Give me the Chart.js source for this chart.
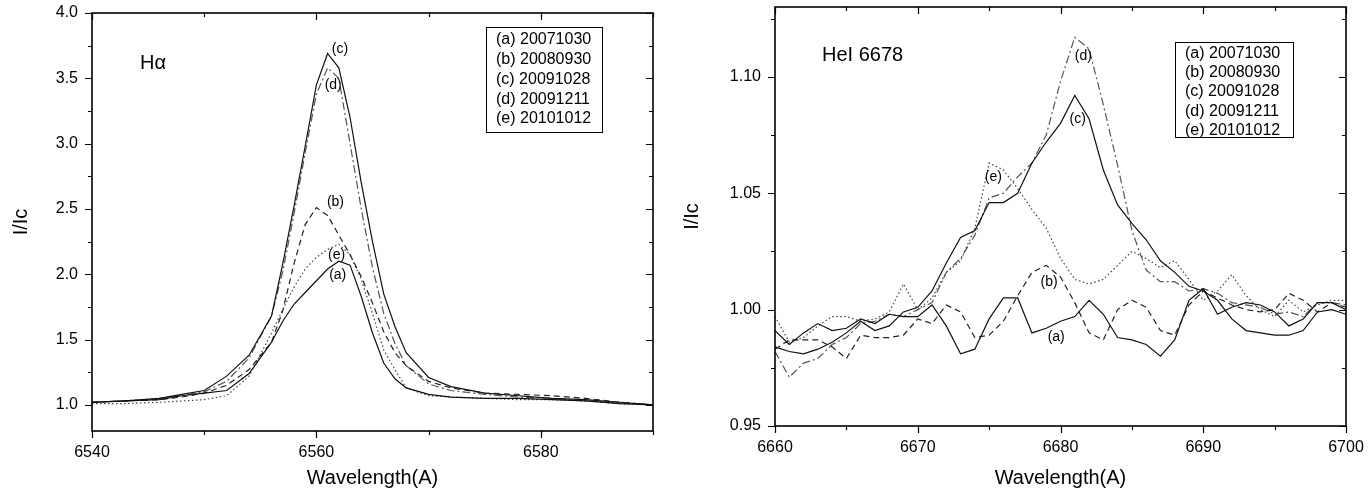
<!DOCTYPE html>
<html>
<head>
<meta charset="utf-8">
<script src="https://cdn.jsdelivr.net/npm/chart.js@4"></script>
<style>
  body { margin: 0; background: #fff; }
  .panel { position: absolute; top: 0; }
</style>
</head>
<body>
<div class="panel" style="left:0"><canvas id="haChart" width="680" height="495"></canvas></div>
<div class="panel" style="left:680px"><canvas id="heChart" width="689" height="495"></canvas></div>
<script>
// ---- data ----
var seriesNames = ['(a) 20071030', '(b) 20080930', '(c) 20091028', '(d) 20091211', '(e) 20101012'];

// H-alpha panel
var haWave = [6540, 6543, 6546, 6548, 6550, 6552, 6554, 6556, 6557, 6558, 6559, 6560, 6561, 6562,
              6563, 6564, 6565, 6566, 6567, 6568, 6570, 6572, 6575, 6578, 6581, 6584, 6587, 6590];
var haA = [1.02, 1.03, 1.04, 1.07, 1.09, 1.11, 1.24, 1.48, 1.64, 1.77, 1.86, 1.95, 2.04, 2.10,
           2.07, 1.83, 1.55, 1.32, 1.20, 1.13, 1.08, 1.06, 1.05, 1.05, 1.04, 1.03, 1.01, 1.00];
var haB = [1.02, 1.03, 1.04, 1.06, 1.09, 1.15, 1.27, 1.48, 1.72, 2.08, 2.38, 2.51, 2.45, 2.30,
           2.15, 1.98, 1.78, 1.56, 1.40, 1.30, 1.18, 1.13, 1.09, 1.08, 1.07, 1.05, 1.02, 1.00];
var haC = [1.02, 1.03, 1.05, 1.08, 1.11, 1.22, 1.38, 1.68, 2.08, 2.52, 2.98, 3.45, 3.69, 3.58,
           3.20, 2.70, 2.25, 1.85, 1.60, 1.40, 1.21, 1.14, 1.09, 1.07, 1.05, 1.04, 1.02, 1.00];
var haD = [1.02, 1.03, 1.05, 1.07, 1.10, 1.18, 1.36, 1.68, 2.02, 2.46, 2.93, 3.38, 3.58, 3.50,
           3.00, 2.50, 2.05, 1.70, 1.47, 1.30, 1.16, 1.11, 1.08, 1.06, 1.05, 1.03, 1.02, 1.00];
var haE = [1.01, 1.01, 1.02, 1.03, 1.04, 1.07, 1.22, 1.55, 1.73, 1.90, 2.04, 2.13, 2.19, 2.23,
           2.15, 1.96, 1.70, 1.42, 1.27, 1.13, 1.07, 1.06, 1.05, 1.04, 1.04, 1.03, 1.01, 1.00];
var haTickX = [6540, 6560, 6580];
var haTickY = [1.0, 1.5, 2.0, 2.5, 3.0, 3.5, 4.0];

// HeI 6678 panel
var heWave = [6660, 6661, 6662, 6663, 6664, 6665, 6666, 6667, 6668, 6669,
              6670, 6671, 6672, 6673, 6674, 6675, 6676, 6677, 6678, 6679,
              6680, 6681, 6682, 6683, 6684, 6685, 6686, 6687, 6688, 6689,
              6690, 6691, 6692, 6693, 6694, 6695, 6696, 6697, 6698, 6699, 6700];
var heA = [0.991, 0.985, 0.990, 0.994, 0.991, 0.992, 0.996, 0.994, 0.998, 0.997,
           0.997, 1.002, 0.993, 0.981, 0.983, 0.996, 1.005, 1.005, 0.990, 0.992,
           0.995, 0.997, 1.004, 0.998, 0.988, 0.987, 0.985, 0.980, 0.987, 1.004,
           1.009, 0.998, 1.001, 1.003, 1.002, 0.999, 0.993, 0.996, 1.003, 1.003, 1.000];
var heB = [0.983, 0.987, 0.987, 0.987, 0.984, 0.979, 0.989, 0.988, 0.988, 0.989,
           0.996, 0.994, 1.002, 0.999, 0.988, 0.989, 0.995, 1.006, 1.016, 1.019,
           1.014, 1.003, 0.990, 0.987, 1.000, 1.004, 1.001, 0.991, 0.989, 1.002,
           1.008, 1.005, 1.002, 1.000, 0.999, 1.000, 1.007, 1.004, 0.999, 1.003, 1.001];
var heC = [0.984, 0.982, 0.981, 0.983, 0.986, 0.990, 0.995, 0.991, 0.993, 0.999,
           1.001, 1.008, 1.020, 1.031, 1.034, 1.046, 1.046, 1.050, 1.063, 1.072,
           1.080, 1.092, 1.082, 1.060, 1.045, 1.037, 1.030, 1.021, 1.016, 1.010,
           1.008, 1.004, 0.996, 0.991, 0.990, 0.989, 0.989, 0.991, 0.999, 1.000, 0.998];
var heD = [0.982, 0.971, 0.977, 0.979, 0.985, 0.988, 0.994, 0.995, 0.998, 0.997,
           1.000, 1.003, 1.016, 1.022, 1.032, 1.048, 1.050, 1.057, 1.063, 1.075,
           1.098, 1.117, 1.112, 1.088, 1.062, 1.034, 1.017, 1.012, 1.012, 1.008,
           1.009, 1.007, 1.003, 1.002, 1.001, 0.998, 0.999, 0.997, 1.003, 1.003, 1.002];
var heE = [0.997, 0.986, 0.988, 0.993, 0.997, 0.997, 0.995, 0.996, 0.999, 1.011,
           1.000, 1.005, 1.016, 1.021, 1.035, 1.063, 1.060, 1.052, 1.043, 1.035,
           1.022, 1.013, 1.011, 1.013, 1.019, 1.025, 1.022, 1.018, 1.021, 1.013,
           1.004, 1.008, 1.015, 1.006, 1.000, 0.997, 1.004, 0.999, 1.002, 1.004, 1.004];
var heTickX = [6660, 6670, 6680, 6690, 6700];
var heTickY = [0.95, 1.00, 1.05, 1.10];

// curve labels, in data units
var haNotes = [
  { text: '(c)', x: 6562.1, y: 3.72 },
  { text: '(d)', x: 6561.5, y: 3.45 },
  { text: '(b)', x: 6561.7, y: 2.55 },
  { text: '(e)', x: 6561.8, y: 2.15 },
  { text: '(a)', x: 6561.9, y: 1.99 }
];
var heNotes = [
  { text: '(d)', x: 6681.6, y: 1.109 },
  { text: '(c)', x: 6681.2, y: 1.082 },
  { text: '(e)', x: 6675.3, y: 1.057 },
  { text: '(b)', x: 6679.2, y: 1.012 },
  { text: '(a)', x: 6679.7, y: 0.988 }
];

// ---- styles ----
Chart.defaults.font.family = '"Liberation Sans", Arial, sans-serif';
Chart.defaults.color = '#000';

var lineStyles = [
  { color: '#111', dash: [] },
  { color: '#222', dash: [6, 4] },
  { color: '#111', dash: [] },
  { color: '#555', dash: [8, 3, 2, 3] },
  { color: '#444', dash: [1.5, 2.5] }
];

function makeDatasets(wave, series) {
  return series.map(function (vals, i) {
    return {
      label: seriesNames[i],
      data: wave.map(function (w, j) { return { x: w, y: vals[j] }; }),
      borderColor: lineStyles[i].color,
      borderDash: lineStyles[i].dash,
      borderWidth: 1.2,
      pointRadius: 0,
      tension: 0,
      fill: false
    };
  });
}

function minorTicks(major, min, max) {
  var step = major[1] - major[0], out = [];
  [major[0] - step / 2].concat(major.map(function (m) { return m + step / 2; })).forEach(function (v) {
    if (v >= min - 1e-9 && v <= max + 1e-9) out.push(v);
  });
  return out;
}

// frame, ticks on all four sides, curve labels and legend box
function panelPlugin(cfg) {
  return {
    id: 'panel_' + cfg.name,
    afterDraw: function (chart) {
      var ctx = chart.ctx, a = chart.chartArea;
      var xs = chart.scales.x, ys = chart.scales.y;
      ctx.save();
      ctx.strokeStyle = '#000';
      ctx.lineWidth = 1.2;
      ctx.beginPath();
      function xTick(v, len) {
        var p = Math.round(xs.getPixelForValue(v)) + 0.5;
        ctx.moveTo(p, a.bottom); ctx.lineTo(p, a.bottom + len);
        ctx.moveTo(p, a.top); ctx.lineTo(p, a.top + len);
      }
      function yTick(v, len) {
        var p = Math.round(ys.getPixelForValue(v)) + 0.5;
        ctx.moveTo(a.left, p); ctx.lineTo(a.left - len, p);
        ctx.moveTo(a.right, p); ctx.lineTo(a.right - len, p);
      }
      cfg.xTicks.forEach(function (v) { xTick(v, 7); });
      minorTicks(cfg.xTicks, xs.min, xs.max).forEach(function (v) { xTick(v, 4); });
      cfg.yTicks.forEach(function (v) { yTick(v, 7); });
      minorTicks(cfg.yTicks, ys.min, ys.max).forEach(function (v) { yTick(v, 4); });
      ctx.stroke();

      ctx.lineWidth = 1.6;
      ctx.strokeRect(a.left, a.top, a.right - a.left, a.bottom - a.top);

      // curve labels
      ctx.fillStyle = '#000';
      ctx.font = '14px "Liberation Sans", Arial, sans-serif';
      ctx.textAlign = 'center';
      ctx.textBaseline = 'middle';
      cfg.notes.forEach(function (n) {
        ctx.fillText(n.text, xs.getPixelForValue(n.x), ys.getPixelForValue(n.y));
      });

      // panel title
      ctx.font = '20px "Liberation Sans", Arial, sans-serif';
      ctx.textAlign = 'left';
      ctx.fillText(cfg.title, a.left + cfg.titleDx, a.top + cfg.titleDy);

      // legend box
      var bx = a.right - cfg.box.right, by = a.top + cfg.box.top;
      ctx.fillStyle = '#fff';
      ctx.fillRect(bx, by, cfg.box.w, cfg.box.h);
      ctx.lineWidth = 1;
      ctx.strokeStyle = '#000';
      ctx.strokeRect(bx + 0.5, by + 0.5, cfg.box.w, cfg.box.h);
      ctx.fillStyle = '#000';
      ctx.font = '16px "Liberation Sans", Arial, sans-serif';
      seriesNames.forEach(function (s, i) {
        ctx.fillText(s, bx + 10, by + cfg.box.first + i * cfg.box.gap);
      });
      ctx.restore();
    }
  };
}

function makeChart(id, cfg) {
  return new Chart(document.getElementById(id), {
    type: 'line',
    data: { datasets: makeDatasets(cfg.wave, cfg.series) },
    options: {
      responsive: false,
      animation: false,
      layout: { padding: cfg.padding },
      plugins: { legend: { display: false }, tooltip: { enabled: false } },
      scales: {
        x: {
          type: 'linear',
          min: cfg.xMin,
          max: cfg.xMax,
          afterBuildTicks: function (s) { s.ticks = cfg.xTicks.map(function (v) { return { value: v }; }); },
          afterFit: function (s) { s.height = cfg.xHeight; s.paddingLeft = 0; s.paddingRight = 0; },
          grid: { display: false, drawTicks: false },
          border: { display: false },
          ticks: {
            font: { size: 16 },
            padding: 12,
            maxRotation: 0,
            autoSkip: false,
            callback: function (v) { return String(v); }
          },
          title: {
            display: true,
            text: 'Wavelength(A)',
            font: { size: 20 },
            padding: { top: 0, bottom: 5 }
          }
        },
        y: {
          type: 'linear',
          min: cfg.yMin,
          max: cfg.yMax,
          afterBuildTicks: function (s) { s.ticks = cfg.yTicks.map(function (v) { return { value: v }; }); },
          afterFit: function (s) { s.width = cfg.yWidth; s.paddingTop = 0; s.paddingBottom = 0; },
          grid: { display: false, drawTicks: false },
          border: { display: false },
          ticks: {
            font: { size: 16 },
            padding: 14,
            autoSkip: false,
            callback: function (v) { return v.toFixed(cfg.yDigits); }
          },
          title: {
            display: true,
            text: 'I/Ic',
            font: { size: 20 },
            padding: { top: cfg.yTitlePad, bottom: 0 }
          }
        }
      }
    },
    plugins: [panelPlugin(cfg)]
  });
}

makeChart('haChart', {
  name: 'ha',
  wave: haWave,
  series: [haA, haB, haC, haD, haE],
  xMin: 6540, xMax: 6590, yMin: 0.8, yMax: 4.0,
  xTicks: haTickX, yTicks: haTickY, yDigits: 1,
  padding: { top: 13, right: 27, left: 0, bottom: 0 },
  xHeight: 64, yWidth: 92, yTitlePad: 9,
  notes: haNotes,
  title: 'H\u03b1', titleDx: 48, titleDy: 50,
  box: { right: 167, top: 14, w: 116, h: 105, first: 13, gap: 19.75 }
});

makeChart('heChart', {
  name: 'he',
  wave: heWave,
  series: [heA, heB, heC, heD, heE],
  xMin: 6660, xMax: 6700, yMin: 0.95, yMax: 1.13,
  xTicks: heTickX, yTicks: heTickY, yDigits: 2,
  padding: { top: 7, right: 23, left: 0, bottom: 0 },
  xHeight: 69, yWidth: 95, yTitlePad: 0,
  notes: heNotes,
  title: 'HeI 6678', titleDx: 47, titleDy: 48,
  box: { right: 171, top: 35, w: 118, h: 95, first: 11.5, gap: 19.25 }
});
</script>
</body>
</html>
